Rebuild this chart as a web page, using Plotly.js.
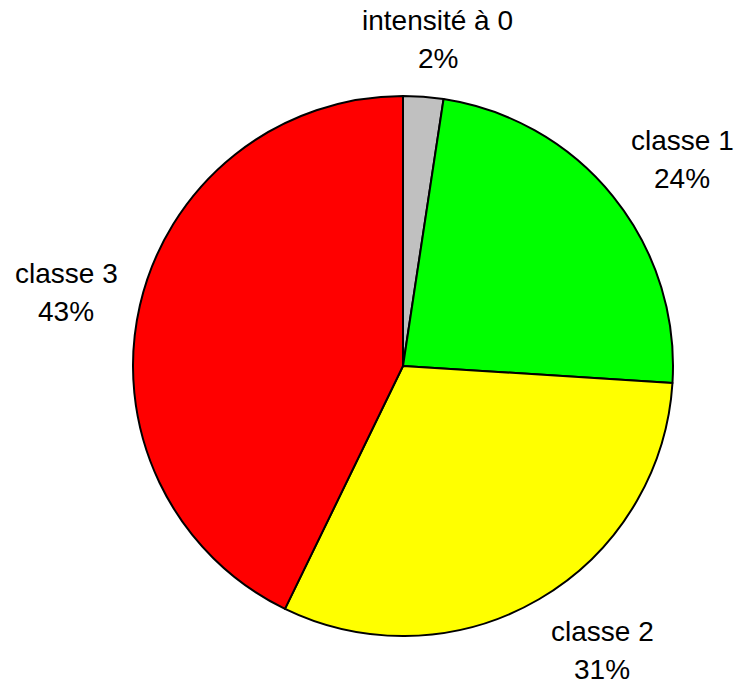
<!DOCTYPE html>
<html>
<head>
<meta charset="utf-8">
<script src="https://cdn.plot.ly/plotly-3.0.1.min.js"></script>
<style>html,body{margin:0;padding:0;background:#fff;}#chart{width:738px;height:684px;}</style>
</head>
<body>
<div id="chart"></div>
<script>
const categories = ["intensité à 0", "classe 1", "classe 2", "classe 3"];
const values = [2.4, 23.6, 31.2, 42.8];
const colors = ["#C0C0C0", "#00FF00", "#FFFF00", "#FF0000"];

const W = 738, H = 684;
const cx = 403, cy = 366, R = 270;
const gap = 22;          // gap between pie edge and label box
const fontSize = 28;
const lineGap = 19;      // half distance between the two label lines
const boxH = 70;
const clamp = (v) => Math.max(-1, Math.min(1, v));

const total = values.reduce((a, b) => a + b, 0);
const annotations = [];
let cum = 0;
values.forEach((v, i) => {
  const mid = (cum + v / 2) / total * 2 * Math.PI;
  cum += v;
  const ux = Math.sin(mid), uy = -Math.cos(mid);
  const boxW = Math.max(categories[i].length, 4) * 13;
  const px = cx + (R + gap) * ux + (boxW / 2) * clamp(ux * 2);
  const py = cy + (R + gap) * uy + (boxH / 2) * clamp(uy * 1.05);
  const pct = Math.round(v / total * 100) + "%";
  const base = {xref: "paper", yref: "paper", x: px / W, y: 1 - py / H,
    xanchor: "center", yanchor: "middle", showarrow: false,
    font: {family: "Liberation Sans, Arial, sans-serif", size: fontSize, color: "#000"}};
  annotations.push(Object.assign({}, base, {text: categories[i], yshift: lineGap}));
  annotations.push(Object.assign({}, base, {text: pct, yshift: -lineGap}));
});

const trace = {
  type: "pie",
  labels: categories,
  values: values,
  sort: false,
  direction: "clockwise",
  rotation: 0,
  marker: {colors: colors, line: {color: "#000", width: 2}},
  textinfo: "none",
  hoverinfo: "none",
  showlegend: false,
  domain: {x: [(cx - R) / W, (cx + R) / W], y: [1 - (cy + R) / H, 1 - (cy - R) / H]}
};

const layout = {
  width: W, height: H,
  margin: {l: 0, r: 0, t: 0, b: 0},
  paper_bgcolor: "#fff",
  showlegend: false,
  annotations: annotations
};

Plotly.newPlot("chart", [trace], layout, {staticPlot: true, displayModeBar: false});
</script>
</body>
</html>
